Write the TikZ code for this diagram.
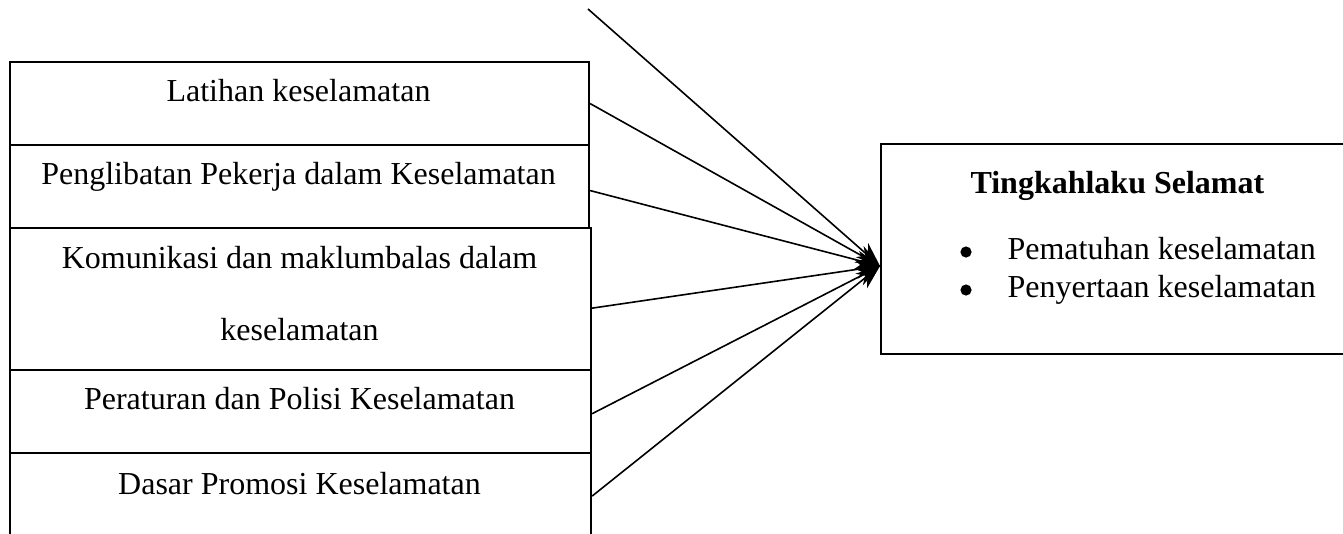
\documentclass[tikz,border=0pt]{standalone}
\usepackage{fontspec}
\setmainfont{Liberation Serif}
\usetikzlibrary{arrows.meta,positioning}
\tikzset{
  box/.style={draw, line width=0.8pt, inner sep=0pt, anchor=north west},
  lbl/.style={anchor=base, inner sep=0pt, font=\fontsize{12}{14}\selectfont},
  dot/.style={circle, fill, inner sep=0pt, minimum size=4.2pt},
  conn/.style={line width=0.6pt, -{Stealth[length=9pt,width=7pt]}},
}
\begin{document}
\begin{tikzpicture}[x=0.375pt,y=-0.375pt]
\useasboundingbox (0,0) rectangle (1343,533);
% left boxes
\node[box, minimum width=579*0.375pt, minimum height=83*0.375pt] (b1) at (9,61) {};
\node[box, minimum width=579*0.375pt, minimum height=83*0.375pt] (b2) at (9,144) {};
\node[box, minimum width=581*0.375pt, minimum height=142*0.375pt] (b3) at (9,227) {};
\node[box, minimum width=581*0.375pt, minimum height=83*0.375pt] (b4) at (9,369) {};
\node[box, minimum width=581*0.375pt, minimum height=86*0.375pt] (b5) at (9,452) {};
% labels
\node[lbl] (t1) at (298.5,101) {Latihan keselamatan};
\node[lbl] (t2) at (298.5,184) {Penglibatan Pekerja dalam Keselamatan};
\node[lbl] (t3) at (299.5,268) {Komunikasi dan maklumbalas dalam};
\node[lbl] (t3b) at (299.5,340) {keselamatan};
\node[lbl] (t4) at (299.5,409) {Peraturan dan Polisi Keselamatan};
\node[lbl] (t5) at (299.5,494) {Dasar Promosi Keselamatan};
% right box
\node[box, minimum width=480*0.375pt, minimum height=210*0.375pt] (r) at (880,143) {};
\node[lbl, anchor=base west, font=\fontsize{12}{14}\selectfont\bfseries] (rh) at (970,193) {Tingkahlaku Selamat};
\node[dot] (bu1) at (966,252) {};
\node[lbl, anchor=base west] (r1) at (1007,259) {Pematuhan keselamatan};
\node[dot] (bu2) at (966,290) {};
\node[lbl, anchor=base west] (r2) at (1007,297) {Penyertaan keselamatan};
% connectors
\coordinate (tip) at (880,266);
\coordinate (src) at (588,9);
\draw[conn] (src) -- (tip);
\draw[conn] (b1.east) -- (tip);
\draw[conn] ([yshift=-1.5pt]b2.east) -- (tip);
\draw[conn] ([yshift=-3.4pt]b3.east) -- (tip);
\draw[conn] ([yshift=-0.8pt]b4.east) -- (tip);
\draw[conn] (b5.east) -- (tip);
\end{tikzpicture}
\end{document}
